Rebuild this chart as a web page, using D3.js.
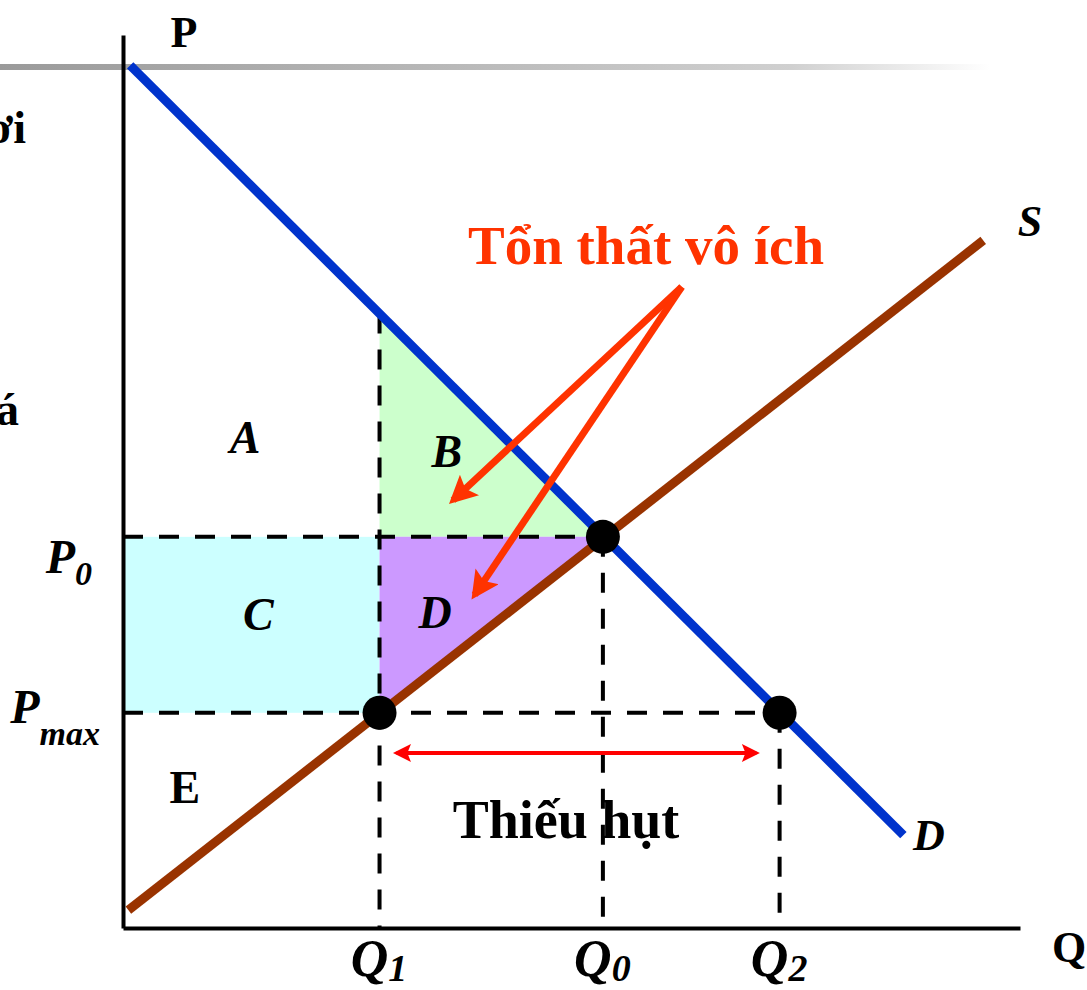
<!DOCTYPE html>
<html>
<head>
<meta charset="utf-8">
<script src="https://cdn.jsdelivr.net/npm/d3@7"></script>
<style>
  body { margin: 0; background: #fff; }
  svg { display: block; font-family: "Liberation Serif", "Times New Roman", serif; font-weight: bold; }
</style>
</head>
<body>
<div id="chart"></div>
<script>
// quantities on the Q axis and prices on the P axis (0..100 units)
var qNames = ["Q1", "Q0", "Q2"],
    qValues = [28.6, 53.5, 73.2]
var pNames = ["P0", "Pmax"],
    pValues = [43.8, 24.1]

// curve end points [q, p]
var demand = [[0.8, 96.6], [87.0, 10.4]],
    supply = [[0.6, 2.0], [95.9, 77.0]]

// area labels [name, q, p]
var areaLabels = [["A", 13.6, 53.2], ["B", 36.1, 51.6], ["C", 15.1, 33.4], ["D", 34.8, 33.6]]

// deadweight-loss arrows: start, then two tips
var lossStart = [62.3, 71.8],
    lossTips = [[36.8, 47.9], [39.2, 37.3]]

var width = 1087, height = 990
var svg = d3.select("#chart").append("svg")
  .attr("width", width)
  .attr("height", height)

var x = d3.scaleLinear().domain([0, 100]).range([123, 1020]),
    y = d3.scaleLinear().domain([0, 100]).range([928, 35])

var q1 = qValues[0], q0 = qValues[1], q2 = qValues[2],
    p0 = pValues[0], pmax = pValues[1]

function onLine(line, q) {
  var a = line[0], b = line[1]
  return a[1] + (b[1] - a[1]) * (q - a[0]) / (b[0] - a[0])
}

var defs = svg.append("defs")
var grad = defs.append("linearGradient").attr("id", "topline")
grad.append("stop").attr("offset", "0%").attr("stop-color", "#9a9a9a")
grad.append("stop").attr("offset", "80%").attr("stop-color", "#d0d0d0")
grad.append("stop").attr("offset", "100%").attr("stop-color", "#ffffff")

function marker(id, color, len, wid) {
  defs.append("marker")
    .attr("id", id)
    .attr("viewBox", "0 -5 10 10")
    .attr("refX", 8)
    .attr("refY", 0)
    .attr("markerUnits", "userSpaceOnUse")
    .attr("markerWidth", len)
    .attr("markerHeight", wid)
    .attr("orient", "auto-start-reverse")
    .append("path")
      .attr("d", "M0,-5L10,0L0,5L2,0Z")
      .attr("fill", color)
}
marker("lossHead", "#ff3300", 32, 28)
marker("gapHead", "#ff0000", 20, 18)

// slide decoration behind the chart
svg.append("rect")
  .attr("x", 0).attr("y", 64)
  .attr("width", 990).attr("height", 6)
  .attr("fill", "url(#topline)")
svg.append("text").attr("x", 26).attr("y", 143).attr("text-anchor", "end")
  .attr("font-size", 46).text("ơi")
svg.append("text").attr("x", 19).attr("y", 425).attr("text-anchor", "end")
  .attr("font-size", 46).text("á")

// filled areas
var line = d3.line().x(function (d) { return x(d[0]) }).y(function (d) { return y(d[1]) })
svg.append("rect")
  .attr("x", x(0)).attr("y", y(p0))
  .attr("width", x(q1) - x(0)).attr("height", y(pmax) - y(p0))
  .attr("fill", "#ccffff")
svg.append("path")
  .attr("d", line([[q1, onLine(demand, q1)], [q1, p0], [q0, p0]]) + "Z")
  .attr("fill", "#ccffcc")
svg.append("path")
  .attr("d", line([[q1, p0], [q0, p0], [q1, pmax]]) + "Z")
  .attr("fill", "#cc99ff")

// dashed guides
var dash = "20,16"
var guides = [
  [[0, p0], [q0, p0]],
  [[0, pmax], [q2, pmax]],
  [[q1, onLine(demand, q1)], [q1, 0]],
  [[q0, p0], [q0, 0]],
  [[q2, pmax], [q2, 0]]
]
svg.selectAll("path.guide").data(guides).enter().append("path")
  .attr("class", "guide")
  .attr("d", line)
  .attr("stroke", "#000")
  .attr("stroke-width", 4)
  .attr("stroke-dasharray", dash)
  .attr("fill", "none")

// curves
svg.append("path").attr("d", line(supply))
  .attr("stroke", "#993300").attr("stroke-width", 9).attr("fill", "none")
svg.append("path").attr("d", line(demand))
  .attr("stroke", "#0033cc").attr("stroke-width", 9).attr("fill", "none")

// axes
var xAxis = svg.append("g")
  .attr("transform", "translate(0," + y(0) + ")")
  .call(d3.axisBottom(x).tickValues(qValues).tickSize(0).tickSizeOuter(0)
    .tickFormat(function (d, i) { return qNames[i] }))
var yAxis = svg.append("g")
  .attr("transform", "translate(" + x(0) + ",0)")
  .call(d3.axisLeft(y).tickValues(pValues).tickSize(0).tickSizeOuter(0)
    .tickFormat(function (d, i) { return pNames[i] }))

svg.selectAll(".domain").attr("stroke", "#000").attr("stroke-width", 4)

function subscriptText(sel, size, subSize, dy) {
  sel.each(function () {
    var t = d3.select(this), s = t.text()
    t.text(null)
      .attr("dy", null)
      .attr("font-size", size)
      .attr("font-style", "italic")
      .attr("font-weight", "bold")
      .attr("font-family", "Liberation Serif, Times New Roman, serif")
      .attr("fill", "#000")
    t.append("tspan").text(s.charAt(0))
    t.append("tspan").attr("font-size", subSize).attr("dy", dy).text(s.slice(1))
  })
}
subscriptText(xAxis.selectAll(".tick text"), 52, 38, 5)
xAxis.selectAll(".tick text").attr("y", 48).attr("x", -1)
subscriptText(yAxis.selectAll(".tick text"), 48, 34, 0)
yAxis.selectAll(".tick text").each(function (d, i) {
  var t = d3.select(this)
  t.attr("x", i == 0 ? -31 : -23).attr("y", i == 0 ? 36 : 10)
  t.select("tspan:last-child").attr("dy", i == 0 ? 12 : 22)
})

// points
var points = [[q1, pmax], [q0, p0], [q2, pmax]]
svg.selectAll("circle.pt").data(points).enter().append("circle")
  .attr("class", "pt")
  .attr("cx", function (d) { return x(d[0]) })
  .attr("cy", function (d) { return y(d[1]) })
  .attr("r", 17)
  .attr("fill", "#000")

// axis titles and curve names
svg.append("text").attr("x", 184).attr("y", 47).attr("text-anchor", "middle")
  .attr("font-size", 44).text("P")
svg.append("text").attr("x", 1069).attr("y", 962).attr("text-anchor", "middle")
  .attr("font-size", 44).text("Q")
svg.append("text").attr("x", 1030).attr("y", 236).attr("text-anchor", "middle")
  .attr("font-size", 44).attr("font-style", "italic").text("S")
svg.append("text").attr("x", 929).attr("y", 850).attr("text-anchor", "middle")
  .attr("font-size", 44).attr("font-style", "italic").text("D")

// area labels
svg.selectAll("text.area").data(areaLabels).enter().append("text")
  .attr("class", "area")
  .attr("x", function (d) { return x(d[1]) })
  .attr("y", function (d) { return y(d[2]) })
  .attr("text-anchor", "middle")
  .attr("font-size", 46)
  .attr("font-style", "italic")
  .text(function (d) { return d[0] })
svg.append("text").attr("x", x(6.9)).attr("y", y(14.0)).attr("text-anchor", "middle")
  .attr("font-size", 46).text("E")

// deadweight-loss callout
svg.append("text").attr("x", 646).attr("y", 264).attr("text-anchor", "middle")
  .attr("font-size", 55).attr("fill", "#ff3300").text("Tổn thất vô ích")
lossTips.forEach(function (tip) {
  svg.append("path")
    .attr("d", line([lossStart, tip]))
    .attr("stroke", "#ff3300").attr("stroke-width", 7)
    .attr("marker-end", "url(#lossHead)")
})

// shortage arrow
svg.append("path")
  .attr("d", line([[30.5, 19.6], [70.6, 19.6]]))
  .attr("stroke", "#ff0000").attr("stroke-width", 4)
  .attr("marker-start", "url(#gapHead)")
  .attr("marker-end", "url(#gapHead)")
svg.append("text").attr("x", 566).attr("y", 838).attr("text-anchor", "middle")
  .attr("font-size", 54).text("Thiếu hụt")
</script>
</body>
</html>
